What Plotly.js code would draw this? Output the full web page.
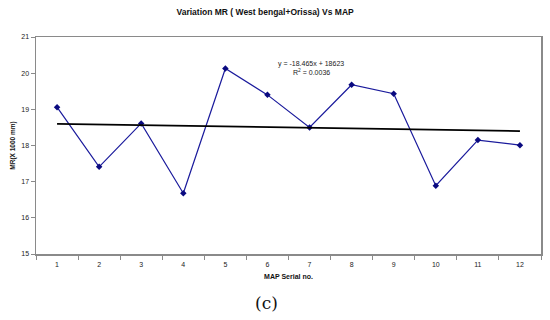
<!DOCTYPE html>
<html><head><meta charset="utf-8">
<script src="https://cdn.plot.ly/plotly-3.0.1.min.js"></script>
<style>html,body{margin:0;padding:0;background:#fff;}#chart{width:550px;height:320px;}</style>
</head><body><div id="chart"></div>
<script>
const serial = [1,2,3,4,5,6,7,8,9,10,11,12];
const mrValues = [19.06,17.41,18.61,16.68,20.13,19.40,18.50,19.68,19.43,16.89,18.15,18.01];
const trendX = [1,12];
const trendY = [18.60,18.40];
const yTicks = [15,16,17,18,19,20,21];
const boundaries = [0.5,1.5,2.5,3.5,4.5,5.5,6.5,7.5,8.5,9.5,10.5,11.5,12.5];

const traces = [
  {x: serial, y: mrValues, type:'scatter', mode:'lines+markers',
   line:{color:'#1a1a9c', width:1.2}, marker:{symbol:'diamond', size:5, color:'#0a0a80'}, showlegend:false},
  {x: trendX, y: trendY, type:'scatter', mode:'lines',
   line:{color:'#000', width:1.8}, showlegend:false}
];
const tf = {family:'Liberation Sans, Arial, sans-serif', size:7, color:'#222'};
const layout = {
  width:550, height:320,
  margin:{l:36, r:9, t:37, b:66},
  paper_bgcolor:'#fff', plot_bgcolor:'#fff',
  title:{text:'<b>Variation MR ( West bengal+Orissa) Vs MAP</b>', x:0.482, xanchor:'center', y:0.962, yanchor:'middle',
    font:{family:'Liberation Sans, Arial, sans-serif', size:8.5, color:'#111'}},
  xaxis:{range:[0.5,12.5], tickmode:'array', tickvals:serial, ticktext:serial.map(String),
    ticks:'', showgrid:false, zeroline:false, showline:true, linecolor:'#8a8a8a', linewidth:1.5, mirror:true,
    tickfont:tf, ticklabelstandoff:3,
    minor:{tickmode:'array', tickvals:boundaries, ticks:'outside', ticklen:4, tickcolor:'#8a8a8a', tickwidth:1, showgrid:false},
    title:{text:'<b>MAP Serial no.</b>', font:{family:'Liberation Sans, Arial, sans-serif', size:7, color:'#111'}, standoff:7}},
  yaxis:{range:[15,21], tickmode:'array', tickvals:yTicks, ticks:'outside', ticklen:4, tickcolor:'#8a8a8a',
    showgrid:false, zeroline:false, showline:true, linecolor:'#8a8a8a', linewidth:1.5, mirror:true,
    tickfont:tf,
    title:{text:'<b>MR(X 1000 mm)</b>', font:{family:'Liberation Sans, Arial, sans-serif', size:6.5, color:'#111'}, standoff:5}},
  annotations:[
    {x:6.2, y:20.25, xref:'x', yref:'y', text:'y = -18.465x + 18623', showarrow:false, xanchor:'left',
     font:{family:'Liberation Sans, Arial, sans-serif', size:7, color:'#222'}},
    {x:6.55, y:20.02, xref:'x', yref:'y', text:'R<sup>2</sup> = 0.0036', showarrow:false, xanchor:'left',
     font:{family:'Liberation Sans, Arial, sans-serif', size:7, color:'#222'}},
    {x:(266-36)/505, y:-(303-254)/217, xref:'paper', yref:'paper', text:'(c)', showarrow:false,
     xanchor:'center', yanchor:'middle', font:{family:'DejaVu Serif, Liberation Serif, serif', size:17, color:'#111'}}
  ]
};
Plotly.newPlot('chart', traces, layout, {staticPlot:true, displayModeBar:false});
</script></body></html>
